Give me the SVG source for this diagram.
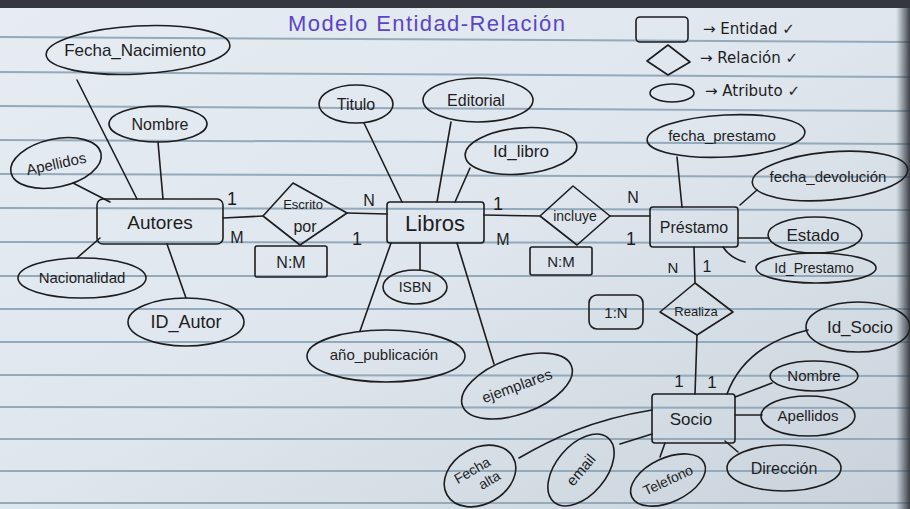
<svg xmlns="http://www.w3.org/2000/svg" width="910" height="509" viewBox="0 0 910 509">
<defs>
<linearGradient id="paper" x1="0" y1="0" x2="1" y2="1">
<stop offset="0" stop-color="#e6ecf2"/>
<stop offset="0.5" stop-color="#dfe6ed"/>
<stop offset="1" stop-color="#c9d2db"/>
</linearGradient>
<linearGradient id="edge" x1="0" y1="0" x2="1" y2="0">
<stop offset="0" stop-color="#3a3f48" stop-opacity="0"/>
<stop offset="1" stop-color="#2a2e36" stop-opacity="0.9"/>
</linearGradient>
<style>
.ink{fill:none;stroke:#1d1d1f;stroke-width:1.6;stroke-linecap:round;stroke-linejoin:round}
.rule{stroke:#93a9bc;stroke-width:2}
.t{font-family:"Liberation Sans","DejaVu Sans",Arial,sans-serif;fill:#1d1d1f;text-anchor:middle}
.title{font-family:"Liberation Sans","DejaVu Sans",Arial,sans-serif;fill:#5a45c8;font-size:22px}
.lg{font-family:"DejaVu Sans","Liberation Sans",sans-serif;fill:#1d1d1f;font-size:15px}
</style>
</defs>
<rect x="0" y="0" width="910" height="509" fill="url(#paper)"/>
<g id="rules">
<line class="rule" x1="0" y1="37" x2="910" y2="42"/>
<line class="rule" x1="0" y1="72" x2="910" y2="77"/>
<line class="rule" x1="0" y1="106" x2="910" y2="111"/>
<line class="rule" x1="0" y1="140" x2="910" y2="144"/>
<line class="rule" x1="0" y1="174" x2="910" y2="177"/>
<line class="rule" x1="0" y1="208" x2="910" y2="210"/>
<line class="rule" x1="0" y1="242" x2="910" y2="243"/>
<line class="rule" x1="0" y1="276" x2="910" y2="276"/>
<line class="rule" x1="0" y1="309" x2="910" y2="309"/>
<line class="rule" x1="0" y1="342" x2="910" y2="342"/>
<line class="rule" x1="0" y1="375" x2="910" y2="376"/>
<line class="rule" x1="0" y1="407" x2="910" y2="408"/>
<line class="rule" x1="0" y1="439" x2="910" y2="439"/>
<line class="rule" x1="0" y1="471" x2="910" y2="471"/>
<line class="rule" x1="0" y1="503" x2="910" y2="503"/>
</g>
<rect x="0" y="0" width="910" height="8" fill="#34373f"/>
<rect x="896" y="8" width="14" height="501" fill="url(#edge)"/>

<text class="title" x="288" y="31" textLength="277">Modelo Entidad-Relación</text>

<g id="legend">
<rect class="ink" x="636" y="17" width="52" height="25" rx="4"/>
<text class="lg" x="703" y="34">→ Entidad ✓</text>
<polygon class="ink" points="647,61 668,45 690,62 668,75"/>
<text class="lg" x="700" y="63">→ Relación ✓</text>
<ellipse class="ink" cx="672" cy="93" rx="22" ry="9"/>
<text class="lg" x="705" y="96">→ Atributo ✓</text>
</g>

<g id="connectors">
<line class="ink" x1="223" y1="218" x2="263" y2="216"/>
<line class="ink" x1="347" y1="213" x2="387" y2="214"/>
<line class="ink" x1="484" y1="215" x2="540" y2="216"/>
<line class="ink" x1="610" y1="216" x2="650" y2="216"/>
<line class="ink" x1="694" y1="247" x2="695" y2="283"/>
<line class="ink" x1="697" y1="335" x2="695" y2="394"/>
<line class="ink" x1="77" y1="80" x2="137" y2="199"/>
<line class="ink" x1="158" y1="142" x2="163" y2="199"/>
<line class="ink" x1="73" y1="183" x2="110" y2="202"/>
<line class="ink" x1="100" y1="238" x2="77" y2="258"/>
<line class="ink" x1="167" y1="244" x2="186" y2="298"/>
<line class="ink" x1="364" y1="123" x2="402" y2="202"/>
<line class="ink" x1="451" y1="122" x2="437" y2="202"/>
<line class="ink" x1="470" y1="168" x2="455" y2="202"/>
<line class="ink" x1="420" y1="243" x2="420" y2="270"/>
<line class="ink" x1="391" y1="243" x2="360" y2="331"/>
<line class="ink" x1="457" y1="243" x2="494" y2="364"/>
<line class="ink" x1="677" y1="157" x2="682" y2="207"/>
<line class="ink" x1="740" y1="205" x2="757" y2="190"/>
<line class="ink" x1="738" y1="238" x2="769" y2="238"/>
<path class="ink" d="M723,247 Q730,258 745,262"/>
<path class="ink" d="M727,394 Q745,345 808,330"/>
<line class="ink" x1="735" y1="397" x2="772" y2="383"/>
<line class="ink" x1="735" y1="415" x2="762" y2="415"/>
<line class="ink" x1="725" y1="441" x2="738" y2="452"/>
<line class="ink" x1="665" y1="443" x2="660" y2="457"/>
<line class="ink" x1="652" y1="434" x2="620" y2="444"/>
<path class="ink" d="M519,458 C550,440 590,420 652,410"/>
</g>

<g id="cardinalities">
<text class="t" x="232" y="205" font-size="18">1</text>
<text class="t" x="237" y="243" font-size="16">M</text>
<text class="t" x="369" y="206" font-size="16">N</text>
<text class="t" x="357" y="245" font-size="18">1</text>
<text class="t" x="498" y="210" font-size="18">1</text>
<text class="t" x="503" y="245" font-size="16">M</text>
<text class="t" x="633" y="203" font-size="16">N</text>
<text class="t" x="631" y="245" font-size="18">1</text>
<text class="t" x="673" y="273" font-size="15">N</text>
<text class="t" x="707" y="272" font-size="16">1</text>
<text class="t" x="679" y="387" font-size="17">1</text>
<text class="t" x="712" y="388" font-size="17">1</text>
</g>

<g id="autores">
<rect class="ink" x="97" y="199" width="126" height="45" rx="6"/>
<text class="t" x="160" y="229" font-size="19">Autores</text>
</g>
<g id="libros">
<rect class="ink" x="387" y="202" width="97" height="41" rx="3"/>
<text class="t" x="435" y="231" font-size="22">Libros</text>
</g>
<g id="prestamo">
<rect class="ink" x="650" y="207" width="88" height="40" rx="3"/>
<text class="t" x="694" y="233" font-size="16">Préstamo</text>
</g>
<g id="socio">
<rect class="ink" x="652" y="394" width="83" height="49" rx="3"/>
<text class="t" x="691" y="425" font-size="17">Socio</text>
</g>

<g id="escrito_por">
<polygon class="ink" points="263,216 293,183 347,213 300,245"/>
<text class="t" x="303" y="209" font-size="13">Escrito</text>
<text class="t" x="305" y="232" font-size="16">por</text>
</g>
<g id="nm1">
<rect class="ink" x="255" y="246" width="72" height="31" rx="2"/>
<text class="t" x="291" y="268" font-size="16">N:M</text>
</g>
<g id="incluye">
<polygon class="ink" points="540,216 573,186 610,216 577,245"/>
<text class="t" x="575" y="221" font-size="14">incluye</text>
</g>
<g id="nm2">
<rect class="ink" x="530" y="247" width="62" height="28" rx="2"/>
<text class="t" x="561" y="267" font-size="15">N:M</text>
</g>
<g id="realiza">
<polygon class="ink" points="660,312 695,283 733,312 697,335"/>
<text class="t" x="696" y="316" font-size="13">Realiza</text>
</g>
<g id="n1">
<rect class="ink" x="589" y="295" width="54" height="34" rx="8"/>
<text class="t" x="616" y="318" font-size="15">1:N</text>
</g>

<g id="fecha_nacimiento">
<ellipse class="ink" cx="138" cy="50" rx="92" ry="24" transform="rotate(-3 138 50)"/>
<text class="t" x="135" y="56" font-size="17">Fecha_Nacimiento</text>
</g>
<g id="nombre_autor">
<ellipse class="ink" cx="158" cy="124" rx="49" ry="18"/>
<text class="t" x="160" y="130" font-size="16">Nombre</text>
</g>
<g id="apellidos_autor">
<ellipse class="ink" cx="56" cy="163" rx="46" ry="24" transform="rotate(-12 56 163)"/>
<text class="t" x="56" y="169" font-size="15" transform="rotate(-12 56 163)">Apellidos</text>
</g>
<g id="nacionalidad">
<ellipse class="ink" cx="82" cy="278" rx="64" ry="20"/>
<text class="t" x="82" y="283" font-size="15">Nacionalidad</text>
</g>
<g id="id_autor">
<ellipse class="ink" cx="186" cy="322" rx="58" ry="24"/>
<text class="t" x="186" y="328" font-size="18">ID_Autor</text>
</g>
<g id="titulo">
<ellipse class="ink" cx="356" cy="104" rx="37" ry="19"/>
<text class="t" x="356" y="110" font-size="16">Titulo</text>
</g>
<g id="editorial">
<ellipse class="ink" cx="478" cy="100" rx="55" ry="22"/>
<text class="t" x="476" y="106" font-size="16">Editorial</text>
</g>
<g id="id_libro">
<ellipse class="ink" cx="521" cy="151" rx="56" ry="23" transform="rotate(-5 521 151)"/>
<text class="t" x="521" y="157" font-size="17">Id_libro</text>
</g>
<g id="isbn">
<ellipse class="ink" cx="415" cy="287" rx="32" ry="17"/>
<text class="t" x="415" y="292" font-size="14">ISBN</text>
</g>
<g id="anio_publicacion">
<ellipse class="ink" cx="386" cy="356" rx="79" ry="26"/>
<text class="t" x="384" y="360" font-size="15">año_publicación</text>
</g>
<g id="ejemplares">
<ellipse class="ink" cx="517" cy="386" rx="58" ry="28" transform="rotate(-20 517 386)"/>
<text class="t" x="517" y="391" font-size="15" transform="rotate(-20 517 386)">ejemplares</text>
</g>
<g id="fecha_prestamo">
<ellipse class="ink" cx="726" cy="136" rx="79" ry="21" transform="rotate(-3 726 136)"/>
<text class="t" x="722" y="141" font-size="15">fecha_prestamo</text>
</g>
<g id="fecha_devolucion">
<ellipse class="ink" cx="830" cy="176" rx="78" ry="24" transform="rotate(-5 830 176)"/>
<text class="t" x="828" y="182" font-size="15">fecha_devolución</text>
</g>
<g id="estado">
<ellipse class="ink" cx="815" cy="235" rx="47" ry="18"/>
<text class="t" x="813" y="241" font-size="17">Estado</text>
</g>
<g id="id_prestamo">
<ellipse class="ink" cx="816" cy="268" rx="60" ry="15"/>
<text class="t" x="814" y="273" font-size="14">Id_Prestamo</text>
</g>
<g id="id_socio">
<ellipse class="ink" cx="858" cy="327" rx="52" ry="25"/>
<text class="t" x="860" y="333" font-size="17">Id_Socio</text>
</g>
<g id="nombre_socio">
<ellipse class="ink" cx="814" cy="376" rx="44" ry="15"/>
<text class="t" x="814" y="381" font-size="15">Nombre</text>
</g>
<g id="apellidos_socio">
<ellipse class="ink" cx="808" cy="416" rx="47" ry="20"/>
<text class="t" x="808" y="421" font-size="15">Apellidos</text>
</g>
<g id="direccion">
<ellipse class="ink" cx="784" cy="468" rx="57" ry="23"/>
<text class="t" x="784" y="474" font-size="16">Dirección</text>
</g>
<g id="telefono">
<ellipse class="ink" cx="668" cy="480" rx="40" ry="22" transform="rotate(-25 668 480)"/>
<text class="t" x="668" y="485" font-size="14" transform="rotate(-25 668 480)">Telefono</text>
</g>
<g id="email">
<ellipse class="ink" cx="581" cy="470" rx="42" ry="25" transform="rotate(-50 581 470)"/>
<text class="t" x="581" y="475" font-size="15" transform="rotate(-50 581 470)">email</text>
</g>
<g id="fecha_alta">
<ellipse class="ink" cx="480" cy="476" rx="38" ry="28" transform="rotate(-30 480 476)"/>
<text class="t" x="476" y="472" font-size="14" transform="rotate(-30 480 476)">Fecha</text>
<text class="t" x="486" y="489" font-size="14" transform="rotate(-30 480 476)">alta</text>
</g>
</svg>
